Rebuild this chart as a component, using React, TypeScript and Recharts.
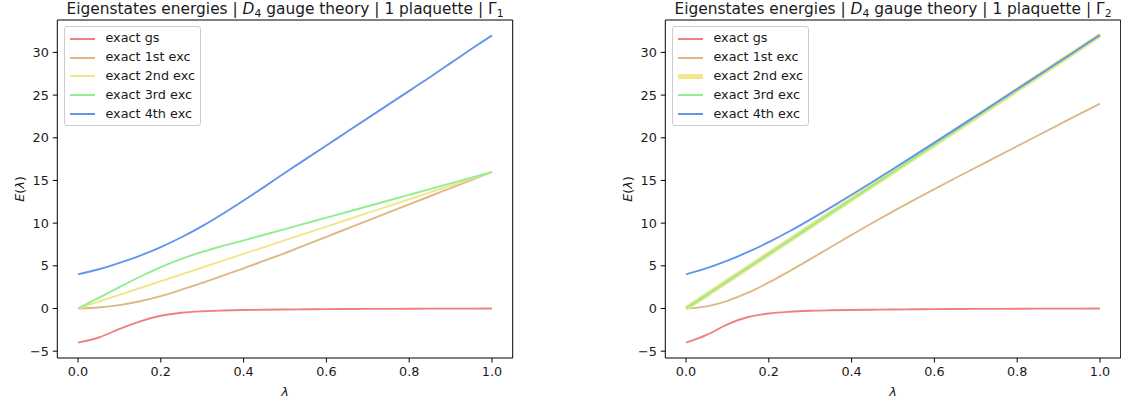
import React from "react";
import { LineChart, Line, XAxis, YAxis, ReferenceLine, Legend } from "recharts";

// coupling values (x axis)
const lambdas = [0, 0.05, 0.1, 0.15, 0.2, 0.25, 0.3, 0.35, 0.4, 0.45, 0.5, 0.55, 0.6, 0.65, 0.7, 0.75, 0.8, 0.85, 0.9, 0.95, 1.0];

// Γ1 sector
const gsG1 = [-4, -3.4, -2.4, -1.5, -0.85, -0.5, -0.33, -0.24, -0.18, -0.14, -0.11, -0.09, -0.07, -0.06, -0.05, -0.04, -0.03, -0.02, -0.015, -0.01, 0];
const exc1G1 = [0, 0.12, 0.4, 0.85, 1.45, 2.2, 3.0, 3.85, 4.7, 5.6, 6.5, 7.45, 8.4, 9.35, 10.3, 11.25, 12.2, 13.15, 14.1, 15.05, 16];
const exc2G1 = [0, 0.8, 1.6, 2.4, 3.2, 4.0, 4.8, 5.6, 6.4, 7.2, 8.0, 8.8, 9.6, 10.4, 11.2, 12.0, 12.8, 13.6, 14.4, 15.2, 16];
const exc3G1 = [0, 1.25, 2.5, 3.72, 4.85, 5.82, 6.63, 7.33, 7.99, 8.64, 9.3, 9.97, 10.64, 11.31, 11.98, 12.65, 13.32, 13.99, 14.66, 15.33, 16];
const exc4G1 = [4, 4.6, 5.35, 6.2, 7.2, 8.35, 9.65, 11.1, 12.65, 14.25, 15.9, 17.5, 19.1, 20.7, 22.3, 23.9, 25.5, 27.1, 28.75, 30.4, 32];

// Γ2 sector
const gsG2 = [-4, -3.1, -1.85, -1.0, -0.58, -0.38, -0.27, -0.21, -0.17, -0.14, -0.11, -0.09, -0.07, -0.06, -0.05, -0.04, -0.03, -0.02, -0.015, -0.01, 0];
const exc1G2 = [0, 0.25, 0.9, 1.85, 3.05, 4.38, 5.78, 7.2, 8.62, 10.02, 11.38, 12.7, 13.99, 15.26, 16.52, 17.77, 19.02, 20.27, 21.52, 22.77, 24];
const exc2G2 = [0, 1.6, 3.2, 4.8, 6.4, 8.0, 9.6, 11.2, 12.8, 14.4, 16.0, 17.6, 19.2, 20.8, 22.4, 24.0, 25.6, 27.2, 28.8, 30.4, 32];
const exc3G2 = [0, 1.6, 3.2, 4.8, 6.4, 8.0, 9.6, 11.2, 12.8, 14.4, 16.0, 17.6, 19.2, 20.8, 22.4, 24.0, 25.6, 27.2, 28.8, 30.4, 32];
const exc4G2 = [4, 4.72, 5.6, 6.62, 7.78, 9.05, 10.42, 11.85, 13.32, 14.82, 16.34, 17.88, 19.43, 20.99, 22.56, 24.13, 25.71, 27.29, 28.87, 30.46, 32.05];

const seriesNames = ["exact gs", "exact 1st exc", "exact 2nd exc", "exact 3rd exc", "exact 4th exc"];
const seriesColors = ["#f08080", "#deb887", "#f0e68c", "#90ee90", "#6495ed"];

const xTicks = [0, 0.2, 0.4, 0.6, 0.8, 1.0];
const yTicks = [-5, 0, 5, 10, 15, 20, 25, 30];

const FONT = '"DejaVu Sans", sans-serif';
const TEXT = "#1a1a1a";
const FS = 12.8;
const LINE_W = 1.9;
const THICK_W = 5;

const fmtY = (v: number) => (v < 0 ? "\u2212" + Math.abs(v) : String(v));

function LegendBox({ thickIndex }: { thickIndex: number }) {
  return (
    <div
      style={{
        background: "rgba(255,255,255,0.8)",
        border: "1px solid #cccccc",
        borderRadius: 3,
        padding: "5px 5px 5px 5px",
        fontFamily: FONT,
        fontSize: FS,
        lineHeight: "12.5px",
        color: TEXT,
      }}
    >
      {seriesNames.map((name, k) => (
        <div
          key={name}
          style={{ display: "flex", alignItems: "center", height: 12.5, marginTop: k === 0 ? 0 : 6.4, whiteSpace: "nowrap" }}
        >
          <span
            style={{
              display: "inline-block",
              width: 25.6,
              height: k === thickIndex ? THICK_W : 2,
              background: seriesColors[k],
              marginRight: 10.2,
            }}
          />
          <span>{name}</span>
        </div>
      ))}
    </div>
  );
}

function EnergyPanel({
  left,
  irrep,
  series,
  thickIndex,
}: {
  left: number;
  irrep: string;
  series: number[][];
  thickIndex: number;
}) {
  const data = lambdas.map((l, i) => {
    const row: Record<string, number> = { lambda: l };
    series.forEach((s, k) => {
      row["s" + k] = s[i];
    });
    return row;
  });

  return (
    <div style={{ position: "absolute", left, top: 0, width: 560, height: 403 }}>
      <div
        style={{
          position: "absolute",
          left: 57.3,
          width: 455.4,
          top: 0,
          textAlign: "center",
          fontFamily: FONT,
          fontSize: 15.4,
          lineHeight: "18px",
          color: TEXT,
          whiteSpace: "nowrap",
        }}
      >
        Eigenstates energies | <i>D</i>
        <span style={{ fontSize: 10.8, position: "relative", top: 3 }}>4</span> gauge theory | 1 plaquette | Γ
        <span style={{ fontSize: 10.8, position: "relative", top: 3 }}>{irrep}</span>
      </div>
      <div
        style={{
          position: "absolute",
          left: 19,
          top: 189,
          transform: "translate(-50%, -50%) rotate(-90deg)",
          fontFamily: FONT,
          fontSize: FS,
          color: TEXT,
          whiteSpace: "nowrap",
        }}
      >
        <i>E</i>(<i>λ</i>)
      </div>
      <div
        style={{
          position: "absolute",
          left: 285,
          top: 391,
          transform: "translate(-50%, -50%)",
          fontFamily: FONT,
          fontSize: FS,
          color: TEXT,
        }}
      >
        <i>λ</i>
      </div>
      <LineChart width={560} height={403} data={data} margin={{ top: 20, right: 47.3, bottom: 15, left: 17.3 }}>
        <XAxis
          dataKey="lambda"
          type="number"
          domain={[-0.05, 1.05]}
          allowDataOverflow
          ticks={xTicks}
          interval={0}
          tickFormatter={(v: number) => v.toFixed(1)}
          height={30}
          tickSize={4.5}
          tickMargin={4}
          stroke="#000"
          tick={{ fill: TEXT, fontSize: FS, fontFamily: FONT }}
        />
        <YAxis
          type="number"
          domain={[-5.8, 33.8]}
          allowDataOverflow
          ticks={yTicks}
          interval={0}
          tickFormatter={fmtY}
          width={40}
          tickSize={4.5}
          tickMargin={4}
          stroke="#000"
          tick={{ fill: TEXT, fontSize: FS, fontFamily: FONT }}
        />
        <ReferenceLine y={33.8} stroke="#000" />
        <ReferenceLine x={1.05} stroke="#000" />
        {series.map((_, k) => (
          <Line
            key={k}
            dataKey={"s" + k}
            name={seriesNames[k]}
            type="monotone"
            stroke={seriesColors[k]}
            strokeWidth={k === thickIndex ? THICK_W : LINE_W}
            dot={false}
            activeDot={false}
            isAnimationActive={false}
          />
        ))}
        <Legend
          layout="vertical"
          align="center"
          verticalAlign="middle"
          wrapperStyle={{ left: 63.7, top: 26.4, width: "auto", height: "auto" }}
          content={() => <LegendBox thickIndex={thickIndex} />}
        />
      </LineChart>
    </div>
  );
}

export default function App() {
  return (
    <div
      style={{
        position: "absolute",
        left: 0,
        top: 0,
        width: 1121,
        height: 403,
        overflow: "hidden",
        background: "#fff",
      }}
    >
      <EnergyPanel left={0} irrep="1" series={[gsG1, exc1G1, exc2G1, exc3G1, exc4G1]} thickIndex={-1} />
      <EnergyPanel left={608} irrep="2" series={[gsG2, exc1G2, exc2G2, exc3G2, exc4G2]} thickIndex={2} />
    </div>
  );
}
